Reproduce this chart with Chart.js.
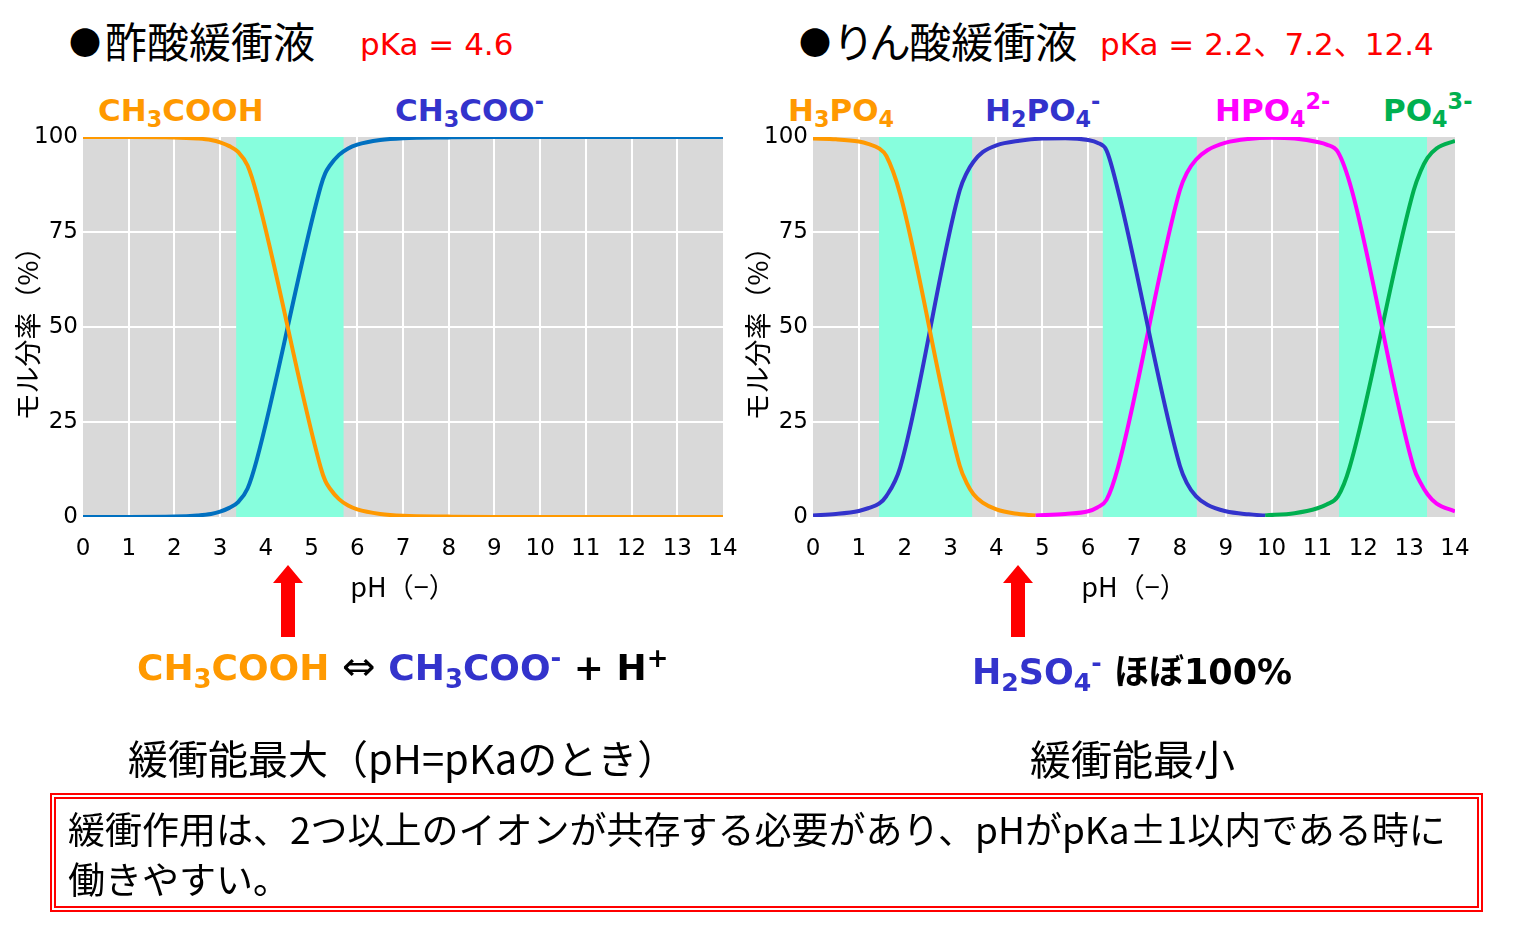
<!DOCTYPE html>
<html lang="ja">
<head>
<meta charset="utf-8">
<script src="https://cdn.jsdelivr.net/npm/chart.js@4.4.1/dist/chart.umd.min.js"></script>
<style>
  body { margin: 0; background: #fff; }
  #page { position: relative; width: 1515px; height: 927px; overflow: hidden;
          font-family: "DejaVu Sans", "Noto Sans CJK JP", sans-serif; }
  .t { position: absolute; white-space: pre; line-height: 1; transform: translateY(-50%); }
  .jp { font-family: "Noto Sans CJK JP", sans-serif; }
  .dot { font-size: 32px; vertical-align: 0.1em; margin-right: 4px; }
  .chem { font-weight: bold; font-size: 31px; }
  .chem sub { font-size: 0.72em; vertical-align: -0.3em; line-height: 0; }
  .chem sup { font-size: 0.72em; vertical-align: 0.5em; line-height: 0; }
  canvas { position: absolute; }
  #box { position: absolute; left: 50px; top: 793px; width: 1433px; height: 119px;
         box-sizing: border-box; border: 6px double #ff0000; }
</style>
</head>
<body>
<div id="page">
  <!-- タイトル -->
  <div class="t jp" style="left:69px; top:40px; font-size:42px;"><span class="dot">●</span>酢酸緩衝液</div>
  <div class="t" style="left:360px; top:44px; font-size:31px; color:#ff0000;">pKa = 4.6</div>
  <div class="t jp" style="left:799px; top:40px; font-size:42px; font-feature-settings:'palt';"><span class="dot">●</span>りん酸緩衝液</div>
  <div class="t" style="left:1100px; top:44px; font-size:31px; color:#ff0000;">pKa = 2.2、7.2、12.4</div>

  <!-- 化学種ラベル -->
  <div class="t chem" style="left:98px; top:110px; color:#ff9900;">CH<sub>3</sub>COOH</div>
  <div class="t chem" style="left:395px; top:110px; color:#3333cc;">CH<sub>3</sub>COO<sup>-</sup></div>
  <div class="t chem" style="left:788px; top:110px; color:#ff9900;">H<sub>3</sub>PO<sub>4</sub></div>
  <div class="t chem" style="left:985px; top:110px; color:#3333cc;">H<sub>2</sub>PO<sub>4</sub><sup>-</sup></div>
  <div class="t chem" style="left:1215px; top:110px; color:#ff00ff;">HPO<sub>4</sub><sup>2-</sup></div>
  <div class="t chem" style="left:1383px; top:110px; color:#00b050;">PO<sub>4</sub><sup>3-</sup></div>

  <canvas id="chartAcetic" width="745" height="500" style="left:0px; top:117px;"></canvas>
  <canvas id="chartPhosphate" width="747" height="500" style="left:730px; top:117px;"></canvas>

  <!-- 矢印 -->
  <svg width="1515" height="927" style="position:absolute; left:0; top:0; pointer-events:none;">
    <polygon points="288,565 303,583 295,583 295,637 281,637 281,583 273,583" fill="#ff0000"/>
    <polygon points="1018,565 1033,583 1025,583 1025,637 1011,637 1011,583 1003,583" fill="#ff0000"/>
  </svg>

  <div class="t chem" style="left:137px; top:666px; font-size:36px;"><span style="color:#ff9900;">CH<sub>3</sub>COOH</span><span style="font-weight:normal; font-size:40px;"> ⇔ </span><span style="color:#3333cc;">CH<sub>3</sub>COO<sup>-</sup></span> + H<sup>+</sup></div>
  <div class="t chem" style="left:972px; top:670px; font-size:35px;"><span style="color:#3333cc;">H<sub>2</sub>SO<sub>4</sub><sup>-</sup></span> <span class="jp">ほぼ</span>100%</div>

  <div class="t jp" style="left:128px; top:757px; font-size:40px;">緩衝能最大（pH=pKaのとき）</div>
  <div class="t jp" style="left:1030px; top:757px; font-size:41px;">緩衝能最小</div>

  <div id="box"></div>
  <div class="t jp" style="left:68px; top:828px; font-size:37px;">緩衝作用は、2つ以上のイオンが共存する必要があり、pHがpKa±1以内である時に</div>
  <div class="t jp" style="left:68px; top:878px; font-size:37px;">働きやすい。</div>
</div>

<script>
// 酢酸（pH と モル分率 %）
const phAcetic = [0, 1, 2, 2.5, 2.8, 3, 3.2, 3.4, 3.6, 3.8, 5.2, 5.3, 5.4, 5.6, 5.8, 6, 6.5, 7, 8, 9, 10, 11, 12, 13, 14];
const ch3cooh  = [100, 100, 99.9, 99.6, 99.2, 98.6, 97.6, 96, 92.5, 85, 13, 9.5, 7.5, 4.7, 3, 2, 0.8, 0.3, 0.1, 0, 0, 0, 0, 0, 0];
const ch3coo   = [0, 0, 0.1, 0.4, 0.8, 1.4, 2.4, 4, 7.5, 15, 87, 90.5, 92.5, 95.3, 97, 98, 99.2, 99.7, 99.9, 100, 100, 100, 100, 100, 100];

// りん酸
const phH3po4 = [0, 0.5, 1, 1.2, 1.44, 1.6, 1.9, 3.2, 3.35, 3.5, 3.7, 4, 4.4, 4.85];
const h3po4   = [99.6, 99.4, 98.8, 98.2, 97, 95, 85, 13.5, 9, 6, 3.8, 2, 0.9, 0.4];

const phH2po4 = [0, 0.5, 1, 1.2, 1.44, 1.6, 1.9, 3.2, 3.35, 3.5, 3.7, 4, 4.5, 5, 5.5, 6, 6.2, 6.4, 6.65, 8.0, 8.15, 8.35, 8.6, 9, 9.5, 9.86];
const h2po4   = [0.4, 0.8, 1.6, 2.3, 3.5, 5.5, 13, 86, 90.5, 93.5, 96, 97.8, 99, 99.6, 99.7, 99.2, 98.5, 96.5, 86, 13.5, 9, 5.5, 3.2, 1.5, 0.7, 0.4];

const phHpo4 = [4.85, 5.5, 6, 6.2, 6.4, 6.65, 8.0, 8.15, 8.35, 8.6, 9, 9.5, 10, 10.5, 11, 11.2, 11.45, 11.75, 13.1, 13.25, 13.4, 13.6, 14];
const hpo4   = [0.4, 0.8, 1.5, 2.5, 4.5, 13, 86, 90.5, 94, 96.5, 98.5, 99.5, 99.8, 99.6, 98.7, 98, 96, 86, 13, 9, 6, 3.5, 1.5];

const phPo4 = [9.86, 10.5, 11, 11.2, 11.45, 11.7, 13.1, 13.25, 13.4, 13.6, 14];
const po4   = [0.4, 1, 2.3, 3.3, 5.5, 13, 86, 91, 94.5, 97, 99];

// 緩衝域（pH 範囲）
const bandsAcetic = [[3.35, 5.7]];
const bandsPhosphate = [[1.44, 3.47], [6.32, 8.37], [11.47, 13.39]];

const yTicks = [0, 25, 50, 75, 100];

// 背景のグレーと緩衝域の帯
const plotBg = {
  id: 'plotBg',
  beforeDraw(chart) {
    const { ctx, chartArea: a } = chart;
    ctx.save();
    ctx.fillStyle = '#d9d9d9';
    ctx.fillRect(a.left, a.top, a.width, a.height);
    ctx.restore();
  },
  beforeDatasetsDraw(chart, args, opts) {
    const { ctx, scales: { x, y } } = chart;
    ctx.save();
    ctx.fillStyle = '#87fedd';
    (opts.ranges || []).forEach(([from, to]) => {
      const x0 = x.getPixelForValue(from);
      const x1 = x.getPixelForValue(to);
      ctx.fillRect(x0, y.top, x1 - x0, y.bottom - y.top);
    });
    ctx.restore();
  }
};

function series(xs, ys, color) {
  return {
    data: xs.map((x, i) => ({ x: x, y: ys[i] })),
    borderColor: color,
    borderWidth: 4,
    pointRadius: 0,
    fill: false,
    cubicInterpolationMode: 'monotone'
  };
}

const tickFont = { family: 'DejaVu Sans', size: 23 };
const titleFont = { family: 'Noto Sans CJK JP', size: 27 };

function makeChart(id, datasets, ranges) {
  return new Chart(document.getElementById(id), {
    type: 'line',
    data: { datasets: datasets },
    options: {
      responsive: false,
      animation: false,
      layout: { padding: { top: 20, right: 22, left: 0, bottom: 0 } },
      plugins: {
        legend: { display: false },
        tooltip: { enabled: false },
        plotBg: { ranges: ranges }
      },
      scales: {
        x: {
          type: 'linear', min: 0, max: 14,
          ticks: { stepSize: 1, color: '#000', font: tickFont, padding: 18 },
          grid: {
            drawTicks: false, lineWidth: 2,
            color: c => (c.tick && (c.tick.value === 0 || c.tick.value === 14)) ? 'rgba(0,0,0,0)' : '#ffffff'
          },
          border: { display: false },
          title: { display: true, text: 'pH（−）', color: '#000', font: titleFont, padding: { top: 0, bottom: 14 } },
          afterFit: s => { s.height = 100; s.paddingLeft = 0; s.paddingRight = 0; }
        },
        y: {
          min: 0, max: 100,
          afterBuildTicks: s => { s.ticks = yTicks.map(v => ({ value: v })); },
          ticks: { color: '#000', font: tickFont, padding: 5 },
          grid: {
            drawTicks: false, lineWidth: 2,
            color: c => (c.tick && (c.tick.value === 0 || c.tick.value === 100)) ? 'rgba(0,0,0,0)' : '#ffffff'
          },
          border: { display: false },
          title: { display: true, text: 'モル分率（%）', color: '#000', font: titleFont, padding: { top: 12, bottom: 0 } },
          afterFit: s => { s.width = 83; s.paddingTop = 0; s.paddingBottom = 0; }
        }
      }
    },
    plugins: [plotBg]
  });
}

makeChart('chartAcetic', [
  series(phAcetic, ch3cooh, '#ff9900'),
  series(phAcetic, ch3coo, '#0070c0')
], bandsAcetic);

makeChart('chartPhosphate', [
  series(phH3po4, h3po4, '#ff9900'),
  series(phH2po4, h2po4, '#3333cc'),
  series(phHpo4, hpo4, '#ff00ff'),
  series(phPo4, po4, '#00b050')
], bandsPhosphate);
</script>
</body>
</html>
